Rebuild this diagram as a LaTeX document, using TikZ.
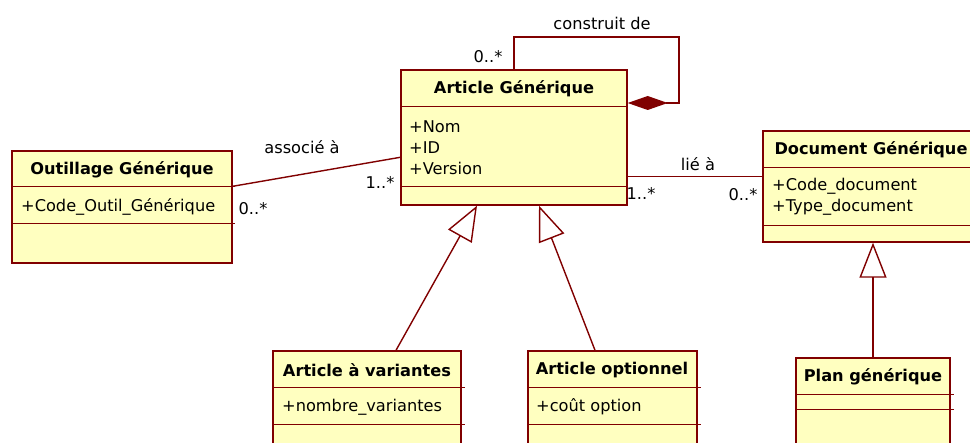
\documentclass[tikz,border=0pt]{standalone}
\usepackage{fontspec}
\setmainfont{DejaVu Sans}
\usetikzlibrary{arrows.meta,calc}
\definecolor{umlred}{RGB}{128,0,0}
\definecolor{umlfill}{RGB}{255,255,192}

\begin{document}
\begin{tikzpicture}[x=1pt,y=-1pt,
  classbox/.style={draw=umlred, fill=umlfill, line width=1.4pt, inner sep=0, rectangle},
  title/.style={font=\fontsize{16.2}{20}\selectfont\bfseries, inner sep=0},
  attrs/.style={font=\fontsize{16.2}{21}\selectfont, inner sep=0, align=left, anchor=west},
  sepline/.style={draw=umlred, line width=1.4pt},
  link/.style={draw=umlred, line width=1.4pt},
  mult/.style={font=\fontsize{16.2}{20}\selectfont, inner sep=0},
  inherit/.style={link, -{Triangle[length=35pt,width=27pt,fill=white]}},
  compose/.style={link, line join=miter, -{Diamond[length=40pt,width=14pt]}}
]
\clip (0,0) rectangle (970,443);

% class boxes
\node[classbox, minimum width=226pt, minimum height=135pt] (ag) at (514,137.5) {};
\node[classbox, minimum width=220pt, minimum height=112pt] (og) at (122,207) {};
\node[classbox, minimum width=216pt, minimum height=111pt] (dg) at (871,186.5) {};
\node[classbox, minimum width=188pt, minimum height=119pt] (av) at (367,410.5) {};
\node[classbox, minimum width=169pt, minimum height=119pt] (ao) at (612.5,410.5) {};
\node[classbox, minimum width=154pt, minimum height=112pt] (pg) at (873,414) {};

% compartment separators
\draw[sepline] ($(ag.north west)+(0,37)$) -- ($(ag.north east)+(0,37)$);
\draw[sepline] ($(ag.north west)+(0,117)$) -- ($(ag.north east)+(0,117)$);
\draw[sepline] ($(og.north west)+(0,36)$) -- ($(og.north east)+(2,36)$);
\draw[sepline] ($(og.north west)+(0,73)$) -- ($(og.north east)+(2,73)$);
\draw[sepline] ($(dg.north west)+(0,37)$) -- ($(dg.north east)+(0,37)$);
\draw[sepline] ($(dg.north west)+(0,95)$) -- ($(dg.north east)+(0,95)$);
\draw[sepline] ($(av.north west)+(0,37)$) -- ($(av.north east)+(3,37)$);
\draw[sepline] ($(av.north west)+(0,74)$) -- ($(av.north east)+(3,74)$);
\draw[sepline] ($(ao.north west)+(0,37)$) -- ($(ao.north east)+(3,37)$);
\draw[sepline] ($(ao.north west)+(0,74)$) -- ($(ao.north east)+(3,74)$);
\draw[sepline] ($(pg.north west)+(0,37)$) -- ($(pg.north east)+(3,37)$);
\draw[sepline] ($(pg.north west)+(0,52)$) -- ($(pg.north east)+(3,52)$);

% class names
\node[title] (agT) at (514,89) {Article Générique};
\node[title] (ogT) at (122,170) {Outillage Générique};
\node[title] (dgT) at (871,150) {Document Générique};
\node[title] (avT) at (367,370) {Article à variantes};
\node[title] (aoT) at (612,370) {Article optionnel};
\node[title] (pgT) at (873,377) {Plan générique};

% attributes
\node[attrs] (agA) at (409,148) {+Nom\\+ID\\+Version};
\node[attrs] (ogA) at (21,207) {+Code\_Outil\_Générique};
\node[attrs] (dgA) at (772,197) {+Code\_document\\+Type\_document};
\node[attrs] (avA) at (282,407) {+nombre\_variantes};
\node[attrs] (aoA) at (536,407) {+coût option};

% composition loop on Article Générique
\coordinate (loopTop) at (514,37);
\coordinate (loopRight) at (679,103);
\draw[compose] (ag.north) -- (loopTop) -| (loopRight) -- (ag.east |- loopRight);
\node[mult] (lblLoop) at (602,23) {construit de};
\node[mult] (mLoop) at (488,57) {0..*};

% association Outillage -- Article
\draw[link] ($(og.north east)+(0,36)$) -- ($(ag.north west)+(0,88)$);
\node[mult] (lblAssoc) at (302,147) {associé à};
\node[mult] (mAssocA) at (380,182) {1..*};
\node[mult] (mAssocO) at (253,209) {0..*};

% association Article -- Document
\draw[link] ($(ag.north east)+(0,107)$) -- ($(dg.north west)+(0,46)$);
\node[mult] (lblLink) at (698,164) {lié à};
\node[mult] (mLinkA) at (641,193) {1..*};
\node[mult] (mLinkD) at (743,195) {0..*};

% generalisations
\draw[inherit] ($(av.north)+(29,0)$) -- ($(ag.south)+(-37,0)$);
\draw[inherit] ($(ao.north)+(-17.5,0)$) -- ($(ag.south)+(25,0)$);
\draw[inherit] (pg.north) -- (pg.north |- dg.south);
\end{tikzpicture}
\end{document}
